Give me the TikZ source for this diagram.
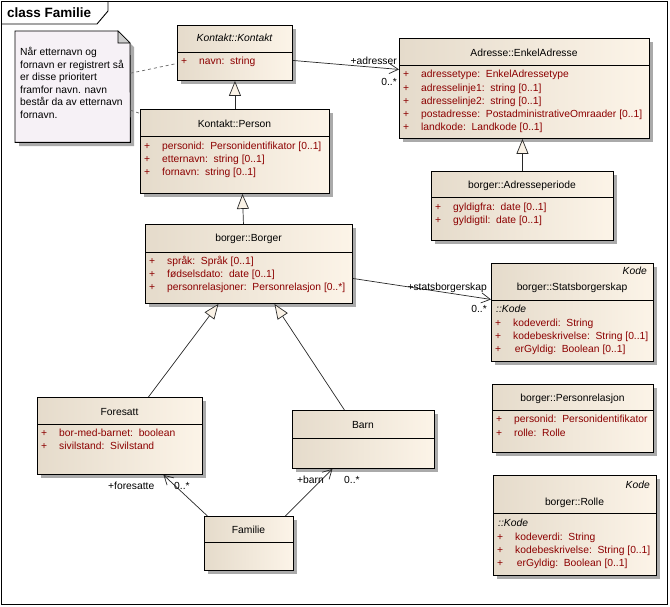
\documentclass[tikz,border=0pt]{standalone}
\usepackage{fontspec}
\setmainfont{Liberation Sans}
\usetikzlibrary{arrows.meta,calc}
\definecolor{boxL}{RGB}{229,219,203}
\definecolor{boxR}{RGB}{252,244,232}
\definecolor{attrC}{RGB}{140,0,0}
\definecolor{shadowC}{RGB}{170,170,170}
\definecolor{noteC}{RGB}{246,241,246}
\definecolor{foldC}{RGB}{205,205,205}
\definecolor{triC}{RGB}{250,242,230}
\definecolor{lineC}{RGB}{40,40,40}
\newcommand\uf{\fontsize{10.3}{12.5}\selectfont}
\tikzset{
  classbox/.style={draw=black, line width=0.9pt, left color=boxL, right color=boxR, inner sep=0pt},
  divline/.style={draw=black, line width=0.9pt},
  txt/.style={inner sep=0pt, font=\uf, text height=7.5pt, text depth=2pt},
  attr/.style={txt, text=attrC, anchor=west},
  ttl/.style={txt, anchor=center},
  lbl/.style={txt},
  gen/.style={draw=lineC, line width=0.7pt, -{Triangle[length=15pt, width=12pt, fill=triC]}},
  assoc/.style={draw=lineC, line width=0.7pt, -{Straight Barb[length=9pt, width=10pt]}},
  notelink/.style={draw=gray!80!black, line width=0.7pt, dash pattern=on 3pt off 3pt},
}
\newcommand\ubox[6]{%
  \fill[shadowC] ({#2+4},{#3+4}) rectangle ({#4+4},{#5+4});
  \node[classbox, anchor=north west, minimum width={#4pt-#2pt}, minimum height={#5pt-#3pt}] (#1) at (#2,#3) {};
  \draw[divline] (#2,#6) -- (#4,#6);}
\newcommand\uattr[4]{%
  \node[attr] (#1p) at ({#2+4},#3) {+};
  \node[attr] (#1) at ({#2+22},#3) {#4};}
\begin{document}
\begin{tikzpicture}[x=1pt,y=-1pt]
\useasboundingbox (0,0) rectangle (670,606);
% frame
\draw[line width=0.9pt] (1,1) rectangle (667,604);
\draw[line width=0.9pt] (1,24) -- (97,24) -- (108,11) -- (108,1);
\node[inner sep=0pt, anchor=west, font=\fontsize{13.5}{15}\selectfont\bfseries] (title) at (7,13) {class Familie};

% note
\node[inner sep=0pt, minimum width=115pt, minimum height=111pt, anchor=north west] (note) at (15,31) {};
\fill[shadowC] (19,35) -- (122,35) -- (134,47) -- (134,146) -- (19,146) -- cycle;
\filldraw[fill=noteC, draw=black, line width=0.9pt] (note.north west) -- (118,31) -- (130,43) -- (note.south east) -- (note.south west) -- cycle;
\filldraw[fill=foldC, draw=black, line width=0.6pt] (118,31) -- (118,43) -- (130,43) -- cycle;
\node[lbl, anchor=west] (n1) at (20,53) {Når etternavn og};
\node[lbl, anchor=west] (n2) at (20,65.5) {fornavn er registrert så};
\node[lbl, anchor=west] (n3) at (20,78) {er disse prioritert};
\node[lbl, anchor=west] (n4) at (20,90.5) {framfor navn. navn};
\node[lbl, anchor=west] (n5) at (20,103) {består da av etternavn};
\node[lbl, anchor=west] (n6) at (20,116) {fornavn.};

% Kontakt::Kontakt
\ubox{kk}{177}{25}{292}{80}{52}
\node[ttl] (kkt) at (234.5,39) {\itshape Kontakt::Kontakt};
\uattr{kka}{177}{62}{navn:\ \ string}

% Kontakt::Person
\ubox{per}{140}{109}{329}{193}{136}
\node[ttl] (pert) at (234.5,124.5) {Kontakt::Person};
\uattr{pera}{140}{147}{personid:\ \ Personidentifikator [0..1]}
\uattr{perb}{140}{160}{etternavn:\ \ string [0..1]}
\uattr{perc}{140}{172.5}{fornavn:\ \ string [0..1]}

% Adresse::EnkelAdresse
\ubox{ea}{399}{38}{649}{138}{65}
\node[ttl] (eat) at (524,54) {Adresse::EnkelAdresse};
\uattr{eaa}{399}{75}{adressetype:\ \ EnkelAdressetype}
\uattr{eab}{399}{89}{adresselinje1:\ \ string [0..1]}
\uattr{eac}{399}{102}{adresselinje2:\ \ string [0..1]}
\uattr{ead}{399}{115}{postadresse:\ \ PostadministrativeOmraader [0..1]}
\uattr{eae}{399}{128}{landkode:\ \ Landkode [0..1]}

% borger::Adresseperiode
\ubox{ap}{431}{171}{613}{240}{197}
\node[ttl] (apt) at (522,186) {borger::Adresseperiode};
\uattr{apa}{431}{208}{gyldigfra:\ \ date [0..1]}
\uattr{apb}{431}{221}{gyldigtil:\ \ date [0..1]}

% borger::Borger
\ubox{bor}{145}{224}{352}{303}{252}
\node[ttl] (bort) at (248.5,239) {borger::Borger};
\uattr{bora}{145}{262}{språk:\ \ Språk [0..1]}
\uattr{borb}{145}{275}{fødselsdato:\ \ date [0..1]}
\uattr{borc}{145}{288}{personrelasjoner:\ \ Personrelasjon [0..*]}

% borger::Statsborgerskap
\ubox{sb}{491}{263}{653}{361}{300}
\node[lbl, anchor=east] (sbk) at (647,272) {\itshape Kode};
\node[ttl] (sbt) at (572,288) {borger::Statsborgerskap};
\node[lbl, anchor=west] (sbkk) at (496,310) {\itshape ::Kode};
\uattr{sba}{491}{324}{kodeverdi:\ \ String}
\uattr{sbb}{491}{337}{kodebeskrivelse:\ \ String [0..1]}
\uattr{sbc}{491}{350}{\,erGyldig:\ \ Boolean [0..1]}

% borger::Personrelasjon
\ubox{pr}{492}{384}{653}{452}{410}
\node[ttl] (prt) at (572.5,399) {borger::Personrelasjon};
\uattr{pra}{492}{420}{personid:\ \ Personidentifikator}
\uattr{prb}{492}{434}{rolle:\ \ Rolle}

% borger::Rolle
\ubox{ro}{493}{475}{656}{575}{513}
\node[lbl, anchor=east] (rok) at (650,486) {\itshape Kode};
\node[ttl] (rot) at (574.5,503) {borger::Rolle};
\node[lbl, anchor=west] (rokk) at (498,524) {\itshape ::Kode};
\uattr{roa}{493}{538}{kodeverdi:\ \ String}
\uattr{rob}{493}{551}{kodebeskrivelse:\ \ String [0..1]}
\uattr{roc}{493}{564}{\,erGyldig:\ \ Boolean [0..1]}

% Foresatt
\ubox{fo}{37}{397}{202}{474}{424}
\node[ttl] (fot) at (119.5,413) {Foresatt};
\uattr{foa}{37}{434}{bor-med-barnet:\ \ boolean}
\uattr{fob}{37}{447}{sivilstand:\ \ Sivilstand}

% Barn
\ubox{ba}{292}{410}{434}{468}{438}
\node[ttl] (bat) at (363,426) {Barn};

% Familie
\ubox{fa}{204}{516}{293}{570}{542}
\node[ttl] (fat) at (248.5,531) {Familie};

% generalizations
\draw[gen] (per.north) -- (kk.south);
\draw[gen] ([xshift=-5.5pt]bor.north) -- ([xshift=7.5pt]per.south);
\draw[gen] (ap.north) -- (ap.north |- ea.south);
\draw[gen] ([xshift=28.5pt]fo.north) -- ([xshift=-30.5pt]bor.south);
\draw[gen] ([xshift=-19pt]ba.north) -- ([xshift=25.5pt]bor.south);

% associations
\draw[assoc] ([yshift=-7.5pt]kk.east) -- ([yshift=19pt]ea.west);
\node[lbl, anchor=east] (l1) at (397,62) {+adresser};
\node[lbl, anchor=east] (l2) at (397,83) {0..*};
\draw[assoc] ([yshift=-14.5pt]bor.east) -- ([yshift=13pt]sb.west);
\node[lbl, anchor=east] (l3) at (487,288) {+statsborgerskap};
\node[lbl, anchor=east] (l4) at (487,310) {0..*};
\draw[assoc] ([xshift=-41.5pt]fa.north) -- ([xshift=43.5pt]fo.south);
\node[lbl, anchor=west] (l5) at (108,487) {+foresatte};
\node[lbl, anchor=west] (l6) at (174,487) {0..*};
\draw[assoc] ([xshift=36.5pt]fa.north) -- ([xshift=-31pt]ba.south);
\node[lbl, anchor=west] (l7) at (297,481) {+barn};
\node[lbl, anchor=west] (l8) at (344,481) {0..*};

% note links
\draw[notelink] ([yshift=13.5pt]note.east) -- ([yshift=-10.5pt]kk.west);
\draw[notelink] ([yshift=-23.5pt]note.east) -- ([yshift=38pt]per.west);
\end{tikzpicture}
\end{document}
